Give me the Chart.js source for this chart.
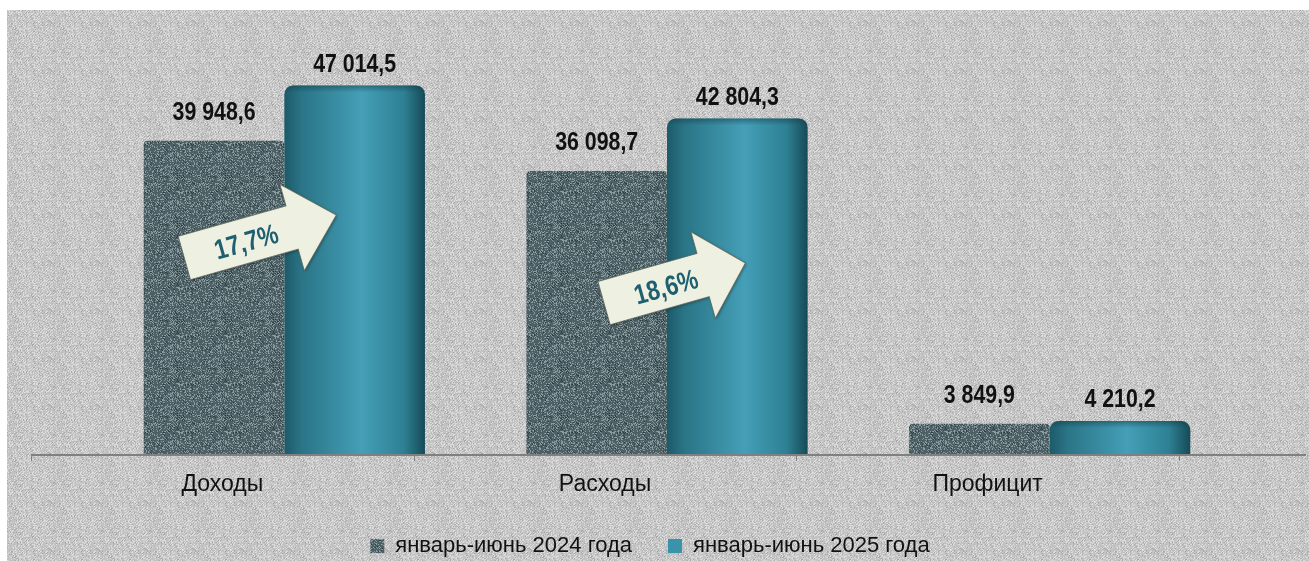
<!DOCTYPE html>
<html>
<head>
<meta charset="utf-8">
<script src="https://cdn.jsdelivr.net/npm/chart.js@4.4.1/dist/chart.umd.min.js"></script>
<style>
  html, body { margin: 0; padding: 0; background: #ffffff; }
  #wrap { width: 1309px; height: 561px; }
</style>
</head>
<body>
<div id="wrap"><canvas id="c" width="1309" height="561"></canvas></div>
<script>
// ---- data ----
const categories = ['Доходы', 'Расходы', 'Профицит'];
const seriesNames = ['январь-июнь 2024 года', 'январь-июнь 2025 года'];
const values2024 = [39948.6, 36098.7, 3849.9];
const values2025 = [47014.5, 42804.3, 4210.2];
const growthLabels = ['17,7%', '18,6%'];   // growth for categories 0 and 1

// ---- helpers ----
function fmt(v) {
  const parts = v.toFixed(1).split('.');
  const int = parts[0].replace(/\B(?=(\d{3})+(?!\d))/g, ' ');
  return int + ',' + parts[1];
}
function hash(x, y, s) {
  let h = Math.imul(x, 374761393) ^ Math.imul(y, 668265263) ^ Math.imul(s, 2246822519);
  h = Math.imul(h ^ (h >>> 13), 1274126177);
  h = h ^ (h >>> 16);
  return (h >>> 0) / 4294967296;
}
function makeTile(size, seed, fn) {
  const c = document.createElement('canvas');
  c.width = size; c.height = size;
  const g = c.getContext('2d');
  const img = g.createImageData(size, size);
  for (let y = 0; y < size; y++) {
    for (let x = 0; x < size; x++) {
      const col = fn(x, y, hash(x, y, seed));
      const i = (y * size + x) * 4;
      img.data[i] = col[0]; img.data[i + 1] = col[1]; img.data[i + 2] = col[2]; img.data[i + 3] = 255;
    }
  }
  g.putImageData(img, 0, 0);
  return c;
}
const bgTile = makeTile(48, 7, (x, y, n) => {
  const diag = ((x + y) % 3 === 0);
  if (diag && n < 0.5) return [222, 222, 222];
  if (n < 0.18) return [218, 218, 218];
  if (n < 0.32) return [168, 168, 168];
  return [194, 194, 194];
});
const barTile = makeTile(48, 3, (x, y, n) => {
  const diag = ((x - y + 48) % 3 === 0);
  if (diag && n < 0.45) return [128, 148, 152];
  if (n < 0.2) return [140, 158, 162];
  if (n < 0.32) return [48, 62, 66];
  return [76, 96, 101];
});

const canvas = document.getElementById('c');
const ctx = canvas.getContext('2d');
const bgPattern = ctx.createPattern(bgTile, 'repeat');
const barPattern = ctx.createPattern(barTile, 'repeat');

const VALUE_FONT = 'bold 26px "Liberation Sans", Arial, sans-serif';
const NARROW = 0.82;

// ---- plugins ----
const backgroundPlugin = {
  id: 'bg',
  beforeDraw(chart) {
    const c = chart.ctx;
    c.save();
    c.fillStyle = '#ffffff';
    c.fillRect(0, 0, chart.width, chart.height);
    c.fillStyle = bgPattern;
    c.fillRect(7, 10, chart.width - 7, chart.height - 10);
    c.restore();
  }
};

const cylinderPlugin = {
  id: 'cyl',
  beforeDatasetsDraw(chart) {
    const c = chart.ctx;
    const meta = chart.getDatasetMeta(1);
    meta.data.forEach(el => {
      const l = el.x - el.width / 2, r = el.x + el.width / 2;
      const g = c.createLinearGradient(l, 0, r, 0);
      g.addColorStop(0, '#1c5a69');
      g.addColorStop(0.12, '#2a7486');
      g.addColorStop(0.55, '#449fb7');
      g.addColorStop(0.85, '#2e8093');
      g.addColorStop(1, '#164a57');
      el.options = Object.assign({}, el.options, { backgroundColor: g });
    });
  },
  afterDatasetsDraw(chart) {
    const c = chart.ctx;
    const meta = chart.getDatasetMeta(1);
    c.save();
    meta.data.forEach(el => {
      const l = el.x - el.width / 2, r = el.x + el.width / 2;
      const g = c.createLinearGradient(0, el.y, 0, el.y + 7);
      g.addColorStop(0, 'rgba(20,60,70,0.5)');
      g.addColorStop(1, 'rgba(20,60,70,0)');
      c.fillStyle = g;
      c.beginPath();
      c.moveTo(l + 9, el.y);
      c.lineTo(r - 9, el.y);
      c.quadraticCurveTo(r, el.y, r, el.y + 9);
      c.lineTo(l, el.y + 9);
      c.quadraticCurveTo(l, el.y, l + 9, el.y);
      c.fill();
    });
    c.restore();
  }
};

const axisPlugin = {
  id: 'axisLine',
  afterDatasetsDraw(chart) {
    const c = chart.ctx;
    const xs = chart.scales.x, ys = chart.scales.y;
    const y0 = ys.getPixelForValue(0);
    const cw = (xs.right - xs.left) / categories.length;
    const shift = -62;
    c.save();
    c.strokeStyle = '#808080';
    c.lineWidth = 2;
    c.beginPath();
    c.moveTo(xs.left + shift, y0 + 1);
    c.lineTo(chart.width - 3, y0 + 1);
    c.stroke();
    c.lineWidth = 1;
    for (let i = 0; i <= categories.length; i++) {
      const x = Math.round(xs.left + shift + i * cw) + 0.5;
      c.beginPath();
      c.moveTo(x, y0 + 1);
      c.lineTo(x, y0 + 7);
      c.stroke();
    }
    c.restore();
  }
};

function narrowText(c, text, x, y) {
  c.save();
  c.translate(x, y);
  c.scale(NARROW, 1);
  c.fillText(text, 0, 0);
  c.restore();
}

const valueLabelPlugin = {
  id: 'valueLabels',
  afterDatasetsDraw(chart) {
    const c = chart.ctx;
    const offsets = [28, 21];
    c.save();
    c.font = VALUE_FONT;
    c.fillStyle = '#111111';
    c.textAlign = 'center';
    c.textBaseline = 'middle';
    chart.data.datasets.forEach((ds, di) => {
      chart.getDatasetMeta(di).data.forEach((el, i) => {
        narrowText(c, fmt(ds.data[i]), el.x, el.y - offsets[di]);
      });
    });
    c.restore();
  }
};

const arrowPlugin = {
  id: 'arrows',
  afterDatasetsDraw(chart) {
    const c = chart.ctx;
    const xs = chart.scales.x, ys = chart.scales.y;
    const arrows = [
      { cat: 0, dx: -100, yv: 25000, len: 158, head: 46 },
      { cat: 1, dx: -63, yv: 19250, len: 147, head: 44 }
    ];
    const ang = -15.8 * Math.PI / 180;
    const bodyH = 22.5, headH = 45;
    c.save();
    arrows.forEach((a, k) => {
      const tx = xs.getPixelForValue(a.cat) + a.dx;
      const ty = ys.getPixelForValue(a.yv);
      c.save();
      c.translate(tx, ty);
      c.rotate(ang);
      const hs = a.len - a.head;
      c.beginPath();
      c.moveTo(0, -bodyH);
      c.lineTo(hs, -bodyH);
      c.lineTo(hs, -headH);
      c.lineTo(a.len, 0);
      c.lineTo(hs, headH);
      c.lineTo(hs, bodyH);
      c.lineTo(0, bodyH);
      c.closePath();
      c.shadowColor = 'rgba(0,0,0,0.35)';
      c.shadowBlur = 3;
      c.shadowOffsetX = 1;
      c.shadowOffsetY = 1;
      c.fillStyle = '#eef1e1';
      c.fill();
      c.shadowColor = 'transparent';
      c.strokeStyle = 'rgba(90,100,90,0.8)';
      c.lineWidth = 1;
      c.stroke();
      c.font = 'bold 28px "Liberation Sans", Arial, sans-serif';
      c.fillStyle = '#1e5f70';
      c.textAlign = 'center';
      c.textBaseline = 'middle';
      narrowText(c, growthLabels[k], 64, 3);
      c.restore();
    });
    c.restore();
  }
};

// ---- chart ----
new Chart(ctx, {
  type: 'bar',
  data: {
    labels: categories,
    datasets: [
      {
        label: seriesNames[0],
        data: values2024,
        backgroundColor: barPattern,
        borderRadius: { topLeft: 4, topRight: 4, bottomLeft: 0, bottomRight: 0 },
        borderSkipped: false
      },
      {
        label: seriesNames[1],
        data: values2025,
        backgroundColor: '#3a93aa',
        borderRadius: { topLeft: 9, topRight: 9, bottomLeft: 0, bottomRight: 0 },
        borderSkipped: false
      }
    ]
  },
  options: {
    responsive: false,
    animation: false,
    devicePixelRatio: 1,
    layout: { padding: { left: 59, right: 68, top: 62, bottom: 0 } },
    datasets: { bar: { categoryPercentage: 0.735, barPercentage: 1 } },
    scales: {
      x: {
        grid: { display: false, drawTicks: false },
        border: { display: false },
        ticks: {
          labelOffset: -62,
          padding: 17,
          color: '#111111',
          font: { family: '"Liberation Sans", Arial, sans-serif', size: 23 }
        },
        afterFit(scale) { scale.height = 45; }
      },
      y: {
        display: true,
        min: 0, max: 50000,
        grid: { display: false, drawTicks: false },
        border: { display: false },
        ticks: { display: false },
        afterFit(scale) { scale.width = 34; }
      }
    },
    plugins: {
      tooltip: { enabled: false },
      legend: {
        position: 'bottom',
        maxHeight: 62,
        labels: {
          boxWidth: 14,
          boxHeight: 14,
          padding: 36,
          color: '#111111',
          font: { family: '"Liberation Sans", Arial, sans-serif', size: 22 }
        }
      }
    }
  },
  plugins: [backgroundPlugin, cylinderPlugin, axisPlugin, arrowPlugin, valueLabelPlugin]
});
</script>
</body>
</html>
